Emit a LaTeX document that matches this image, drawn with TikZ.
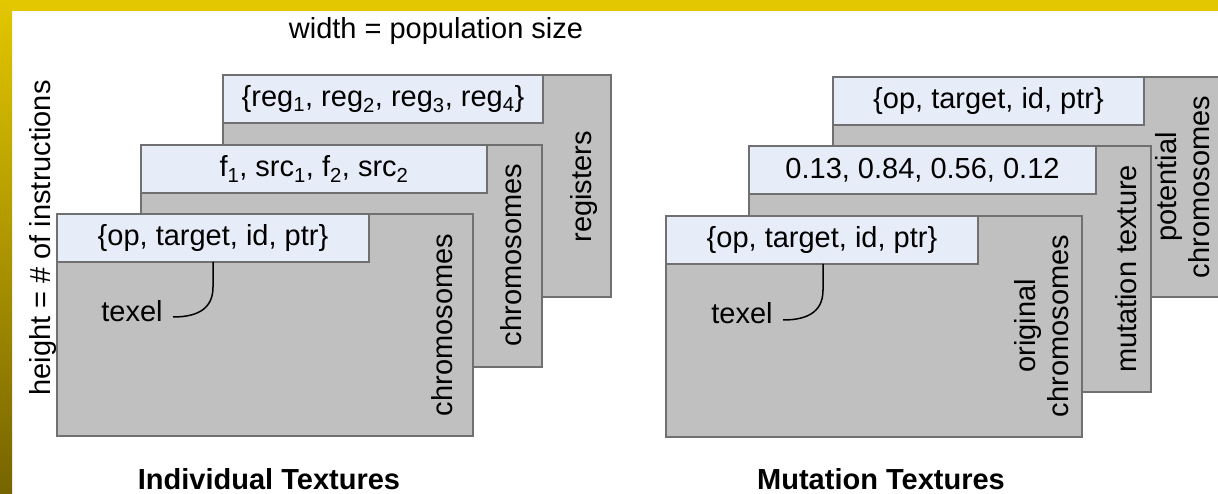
\documentclass[tikz,border=0pt]{standalone}
\usepackage{fontspec}
\setmainfont{Liberation Sans}
\definecolor{yel}{HTML}{E3C700}
\definecolor{yeldark}{HTML}{766400}
\definecolor{yelmid}{HTML}{C9AC00}
\definecolor{boxgray}{HTML}{C0C0C0}
\definecolor{edgegray}{HTML}{707070}
\definecolor{hdrblue}{HTML}{E7EDF8}
\tikzset{
  tex/.style={draw=edgegray, line width=1.5pt, fill=boxgray, inner sep=0pt, outer sep=0pt, anchor=north west},
  hdr/.style={draw=edgegray, line width=1.5pt, fill=hdrblue, inner sep=0pt, outer sep=0pt, anchor=north west, minimum height=48pt},
  lbl/.style={inner sep=0pt, font=\fontsize{29}{33}\selectfont},
  vlbl/.style={lbl, rotate=90, align=center},
  ttl/.style={inner sep=0pt, font=\fontsize{29}{33}\selectfont\bfseries},
  conn/.style={black, line width=1.5pt}
}
\begin{document}
\begin{tikzpicture}[x=1pt,y=-1pt]
\useasboundingbox (0,0) rectangle (1218,494);
\begin{scope}
\clip (0,0) rectangle (1218,494);
\fill[white] (0,0) rectangle (1218,494);
\fill[yel] (0,0) rectangle (1218,11);
\shade[top color=yel, middle color=yelmid, bottom color=yeldark] (0,0) rectangle (12,494);

% titles
\node[lbl] (wd) at (436,31) {width = population size};
\node[lbl, rotate=90] (ht) at (43,238) {height = \# of instructions};
\node[ttl] (it) at (269,479) {Individual Textures};
\node[ttl] (mt) at (881,479) {Mutation Textures};

% ---- left group ----
\node[tex, minimum width=388pt, minimum height=222pt] (lb) at (223,75) {};
\node[hdr, minimum width=320pt] (lbh) at (223,75) {};
\node[lbl] at (lbh.center) {\{reg\textsubscript{1}, reg\textsubscript{2}, reg\textsubscript{3}, reg\textsubscript{4}\}};
\node[vlbl] (lbt) at (584,187) {registers};

\node[tex, minimum width=401pt, minimum height=222pt] (lm) at (141,145) {};
\node[hdr, minimum width=346pt] (lmh) at (141,145) {};
\node[lbl] at (lmh.center) {f\textsubscript{1}, src\textsubscript{1}, f\textsubscript{2}, src\textsubscript{2}};
\node[vlbl] (lmt) at (511,255) {chromosomes};

\node[tex, minimum width=416pt, minimum height=222pt] (lf) at (57,214) {};
\node[hdr, minimum width=312pt] (lfh) at (57,214) {};
\node[lbl] at (lfh.center) {\{op, target, id, ptr\}};
\node[vlbl] (lft) at (442,325) {chromosomes};

\node[lbl] (tl) at (132,311) {texel};
\coordinate (tla) at (213,262);
\coordinate (tlb) at (173,317);
\draw[conn] (tla) -- (213,287) .. controls (213,307) and (200,317) .. (tlb);

% ---- right group ----
\node[tex, minimum width=400pt, minimum height=220pt] (rb) at (833,77) {};
\node[hdr, minimum width=311pt] (rbh) at (833,77) {};
\node[lbl] at (rbh.center) {\{op, target, id, ptr\}};
\node[vlbl] (rbt) at (1183,187) {potential\\chromosomes};

\node[tex, minimum width=402pt, minimum height=246pt] (rm) at (749,146) {};
\node[hdr, minimum width=347pt] (rmh) at (749,146) {};
\node[lbl] at (rmh.center) {0.13, 0.84, 0.56, 0.12};
\node[vlbl] (rmt) at (1126,269) {mutation texture};

\node[tex, minimum width=416pt, minimum height=221pt] (rf) at (666,216) {};
\node[hdr, minimum width=312pt] (rfh) at (666,216) {};
\node[lbl] at (rfh.center) {\{op, target, id, ptr\}};
\node[vlbl] (rft) at (1042,326) {original\\chromosomes};

\node[lbl] (tr) at (742,313) {texel};
\coordinate (tra) at (823,264);
\coordinate (trb) at (783,320);
\draw[conn] (tra) -- (823,290) .. controls (823,310) and (810,320) .. (trb);
\end{scope}
\end{tikzpicture}
\end{document}
